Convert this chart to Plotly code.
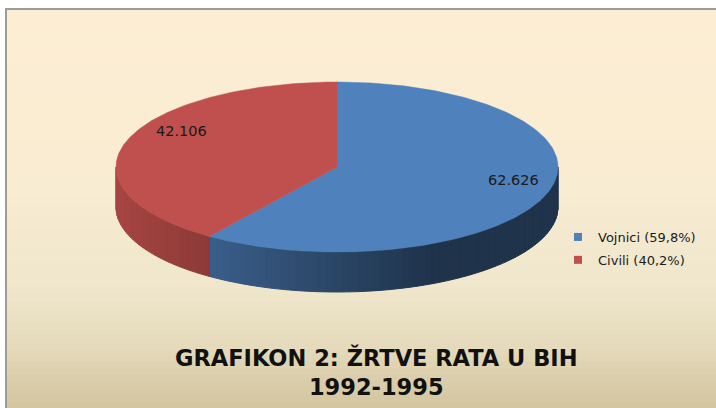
import numpy as np
import plotly.graph_objects as go

# ---- data ----
categories = ["Vojnici", "Civili"]
values = [62626, 42106]
colors = ["#4F81BD", "#C0504D"]
title_lines = ["GRAFIKON 2: ŽRTVE RATA U BIH", "1992-1995"]

# ---- geometry / style ----
W, H = 716, 408
CX, CY, RX, RY, DEPTH = 337, 167, 221, 85, 40
FONT = "DejaVu Sans"

total = sum(values)
fracs = [v / total for v in values]


def pt(theta_deg, k=1.0):
    t = np.radians(theta_deg)
    return CX + k * RX * np.sin(t), CY - k * RY * np.cos(t)


def hex2rgb(h):
    h = h.lstrip("#")
    return [int(h[i:i + 2], 16) for i in (0, 2, 4)]


def shade(hexc, f):
    r, g, b = hex2rgb(hexc)
    return "rgb(%d,%d,%d)" % (r * f, g * f, b * f)


def lerp_col(stops, t):
    for (t0, c0), (t1, c1) in zip(stops[:-1], stops[1:]):
        if t0 <= t <= t1:
            u = (t - t0) / (t1 - t0) if t1 > t0 else 0
            a, b = hex2rgb(c0), hex2rgb(c1)
            return "rgb(%d,%d,%d)" % tuple(round(a[i] + (b[i] - a[i]) * u) for i in range(3))
    return stops[-1][1]


fig = go.Figure()

# background gradient bands
bg_stops = [(0, "#FDEED3"), (0.45, "#F8ECD2"), (0.7, "#EFE6CC"), (0.85, "#E4D9BA"), (1.0, "#D2C49E")]
top_y, n_bands = 9, 60
shapes = []
for i in range(n_bands):
    y0 = top_y + (H - top_y) * i / n_bands
    y1 = top_y + (H - top_y) * (i + 1) / n_bands
    c = lerp_col(bg_stops, (i + 0.5) / n_bands)
    shapes.append(dict(type="rect", xref="x", yref="y", x0=5, x1=W, y0=y0, y1=y1 + 0.5,
                       fillcolor=c, line=dict(width=0), layer="below"))
shapes.append(dict(type="line", xref="x", yref="y", x0=5, x1=W, y0=9, y1=9,
                   line=dict(color="#9C9C9C", width=2), layer="below"))
shapes.append(dict(type="line", xref="x", yref="y", x0=6, x1=6, y0=9, y1=H,
                   line=dict(color="#9C9C9C", width=2), layer="below"))

# slice angle bounds (clockwise from top)
bounds = []
start = 0.0
for f in fracs:
    bounds.append((start, start + f * 360))
    start += f * 360

# sides
for (a0, a1), col in zip(bounds, colors):
    s0, s1 = max(a0, 90), min(a1, 270)
    if s1 <= s0:
        continue
    n = max(2, int((s1 - s0) / 2))
    ts = np.linspace(s0, s1, n + 1)
    for i in range(n):
        xa, ya = pt(ts[i])
        xb, yb = pt(ts[i + 1])
        xm = (xa + xb) / 2
        fac = max(0.40, 0.87 - (xm - (CX - RX)) / 314 * 0.47)
        c = shade(col, fac)
        fig.add_trace(go.Scatter(x=[xa, xb, xb, xa, xa], y=[ya, yb, yb + DEPTH, ya + DEPTH, ya],
                                 fill="toself", fillcolor=c, mode="lines",
                                 line=dict(width=1, color=c), hoverinfo="skip", showlegend=False))

# top faces
for (a0, a1), col in zip(bounds, colors):
    ts = np.linspace(a0, a1, 200)
    xs, ys = pt(ts)
    fig.add_trace(go.Scatter(x=[CX] + list(xs) + [CX], y=[CY] + list(ys) + [CY],
                             fill="toself", fillcolor=col, mode="lines",
                             line=dict(width=0.5, color=col), hoverinfo="skip", showlegend=False))

# legend entries
for i, (cat, v, col) in enumerate(zip(categories, values, colors)):
    pct = ("%.1f" % (v / total * 100)).replace(".", ",")
    fig.add_trace(go.Scatter(x=[None], y=[None], mode="markers", name="%s (%s%%)" % (cat, pct),
                             marker=dict(symbol="square", size=8, color=col),
                             legendgroup=cat, showlegend=True))

# data labels
label_shift = [(8, 8), (13, 15)]
annotations = []
for (a0, a1), v, (dx, dy) in zip(bounds, values, label_shift):
    mid = (a0 + a1) / 2
    x, y = pt(mid, 0.8)
    txt = "{:,}".format(v).replace(",", ".")
    annotations.append(dict(x=x, y=y, xref="x", yref="y", text=txt, showarrow=False,
                            xshift=dx, yshift=dy, font=dict(family=FONT, size=14.5, color="#1a1a1a")))

annotations.append(dict(x=376, y=372, xref="x", yref="y",
                        text="<b>" + "<br>".join(title_lines) + "</b>",
                        showarrow=False, font=dict(family=FONT, size=22.5, color="#111111"),
                        align="center"))

fig.update_layout(
    width=W, height=H,
    margin=dict(l=0, r=0, t=0, b=0),
    paper_bgcolor="white", plot_bgcolor="rgba(0,0,0,0)",
    xaxis=dict(range=[0, W], visible=False, fixedrange=True),
    yaxis=dict(range=[H, 0], visible=False, fixedrange=True),
    shapes=shapes, annotations=annotations,
    legend=dict(x=558 / W, y=1 - 222 / H, xanchor="left", yanchor="top",
                bgcolor="rgba(0,0,0,0)", font=dict(family=FONT, size=13, color="#1a1a1a"),
                tracegroupgap=3, itemwidth=30),
    showlegend=True,
)

fig.write_html("out.html", config={"displayModeBar": False},
               post_script="document.body.style.margin='0';document.body.style.overflow='hidden';")
